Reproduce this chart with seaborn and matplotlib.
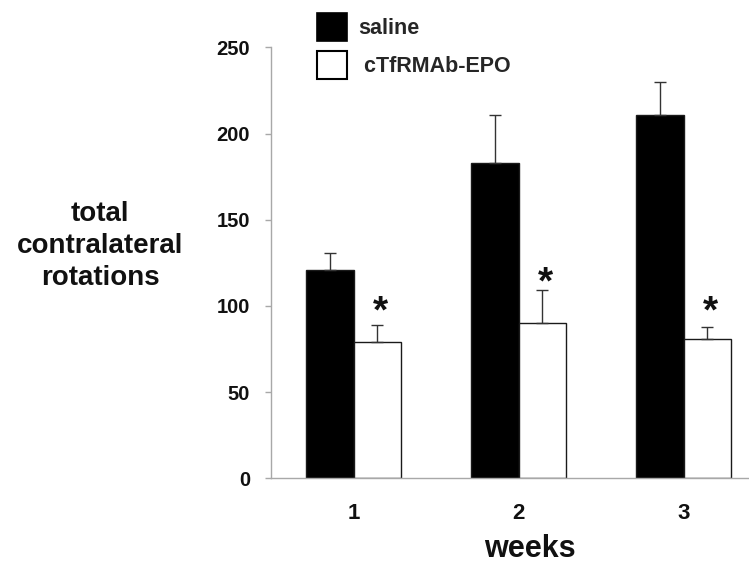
import pandas as pd
import matplotlib.pyplot as plt
import seaborn as sns
from matplotlib.patches import Patch

# values
weeks = ["1", "2", "3"]
groups = ["saline", "cTfRMAb-EPO"]
saline_mean = [121, 183, 211]
saline_err = [10, 28, 19]
epo_mean = [79, 90, 81]
epo_err = [10, 19, 7]
star_y = [99, 116, 99]  # asterisks over cTfRMAb-EPO bars

df = pd.DataFrame({
    "week": weeks * 2,
    "group": [groups[0]] * 3 + [groups[1]] * 3,
    "rotations": saline_mean + epo_mean,
})

sns.set_style("white")
plt.rcParams["font.family"] = ["Liberation Sans", "DejaVu Sans"]
plt.rcParams["font.weight"] = "bold"

axis_grey = "#a8a8a8"
ink = "#111111"

fig = plt.figure(figsize=(7.49, 5.64), dpi=100)
ax = fig.add_axes([271 / 749, 85.6 / 564, 495 / 749, 431.1 / 564])

sns.barplot(data=df, x="week", y="rotations", hue="group", hue_order=groups,
            palette={"saline": "black", "cTfRMAb-EPO": "white"},
            width=0.58, gap=0, edgecolor="#1a1a1a", linewidth=1.0,
            legend=False, ax=ax)

# error bars (upper half only)
for cont, errs in zip(ax.containers, [saline_err, epo_err]):
    xs = [b.get_x() + b.get_width() / 2 for b in cont]
    ys = [b.get_height() for b in cont]
    ax.errorbar(xs, ys, yerr=[[0] * len(errs), errs], fmt="none",
                ecolor="#333333", elinewidth=1.0, capsize=4, capthick=1.0,
                zorder=3)

# significance asterisks
for b, sy in zip(ax.containers[1], star_y):
    ax.text(b.get_x() + b.get_width() / 2 + 0.02, sy - 3, "*",
            ha="center", va="center", fontsize=28, fontweight="bold",
            color=ink)

ax.set_xlim(-0.5, 2.5)
ax.set_ylim(0, 250)
ax.set_yticks(range(0, 251, 50))
ax.set_xticks(range(3))
ax.set_xticklabels(weeks)
ax.set_xticks([-0.5, 0.5, 1.5, 2.5], minor=True)

sns.despine(ax=ax)
for side in ["left", "bottom"]:
    ax.spines[side].set_color(axis_grey)
    ax.spines[side].set_linewidth(1.0)

ax.tick_params(axis="y", which="major", direction="out", length=4, width=1,
               color=axis_grey, labelsize=14.5, pad=11, labelcolor=ink)
ax.tick_params(axis="x", which="major", length=0, labelsize=16, pad=18,
               labelcolor=ink)
ax.tick_params(axis="x", which="minor", direction="out", length=4, width=1,
               color=axis_grey)
ax.tick_params(left=True, bottom=True)

ax.set_xlabel("weeks", fontsize=22, fontweight="bold", color=ink, va="center")
ax.xaxis.set_label_coords((530 - 271) / 495, (478.4 - 549) / 431.1)
ax.set_ylabel("")

fig.text(100 / 749, 1 - 246 / 564, "total\ncontralateral\nrotations",
         ha="center", va="center", ma="center", fontsize=20,
         fontweight="bold", linespacing=1.32, color=ink)

handles = [Patch(facecolor="black", edgecolor="black", linewidth=1.2),
           Patch(facecolor="white", edgecolor="black", linewidth=1.5)]
ax.legend(handles, ["saline", " cTfRMAb-EPO"], loc="upper left",
          bbox_to_anchor=(317 / 749, 1 - 13 / 564),
          bbox_transform=fig.transFigure, frameon=False, borderpad=0,
          borderaxespad=0, handlelength=1.4, handleheight=1.63,
          handletextpad=0.5, labelspacing=0.47,
          prop={"size": 15.5, "weight": "bold"})

fig.savefig("out.png", dpi=100)
